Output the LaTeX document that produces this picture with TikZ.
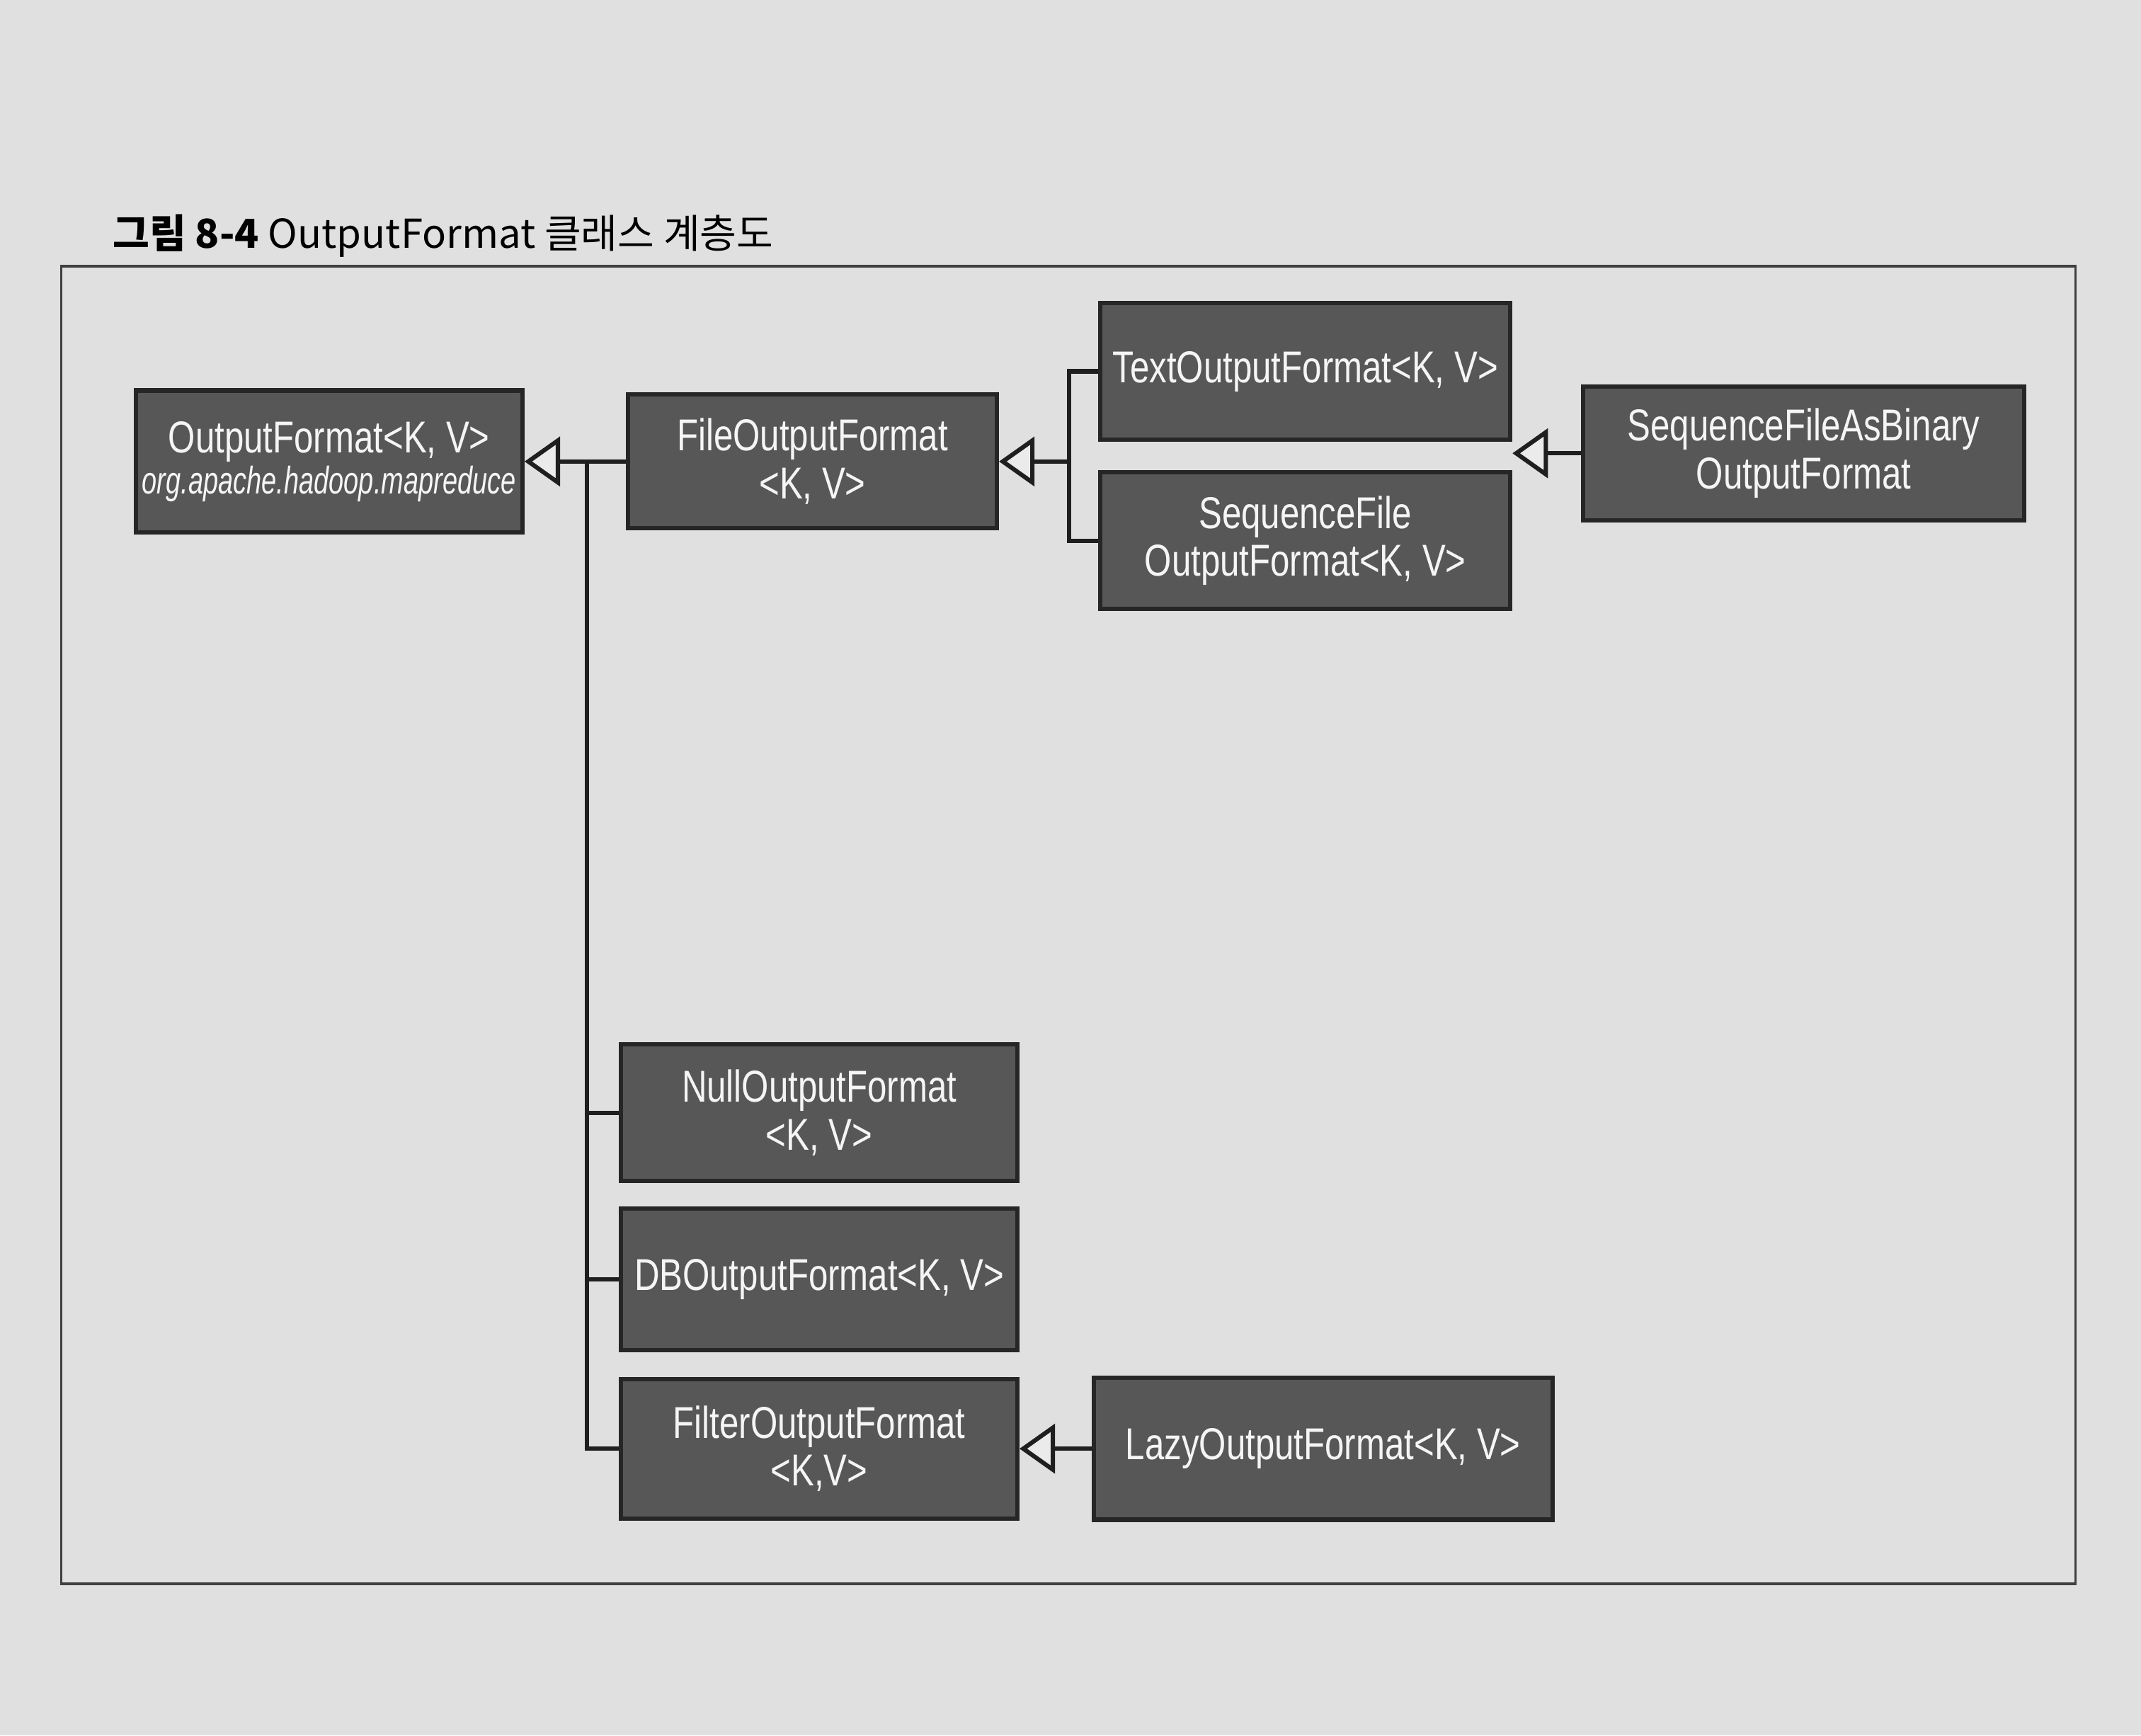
\documentclass[tikz,border=0pt]{standalone}
\usepackage{fontspec}
\setmainfont{Liberation Sans}
\newfontfamily\clsfont{Liberation Sans}[FakeStretch=0.78]
\newfontfamily\pkgfont{Liberation Sans}[FakeStretch=0.70]
\newfontfamily\krfont{Noto Sans CJK KR}
\usetikzlibrary{arrows.meta}

\begin{document}
\begin{tikzpicture}[
    x=0.01cm, y=-0.01cm,
    cls/.style={draw=black!85, fill=black!66, line width=0.9pt, text=white!96!black,
        align=center, inner sep=0pt, font=\clsfont\fontsize{9.3}{10}\selectfont},
    edge/.style={line width=0.9pt, draw=black!88},
    inh/.style={edge, -{Triangle[open, length=2.6mm, width=3.6mm, fill=white!92!black]}},
    lab/.style={inner sep=0pt, anchor=base west}
]
\useasboundingbox (0,0) rectangle (1568,1271);
\fill[black!12] (0,0) rectangle (1568,1271);
\draw[black!75, line width=0.5pt] (45,195) rectangle (1520,1160);

\node[lab] (title) at (82,182) {\krfont\fontsize{8.3}{10}\selectfont\textbf{그림 8-4} OutputFormat 클래스 계층도};

\node[cls, minimum width=2.83cm, minimum height=1.04cm] (out) at (241,338)
    {OutputFormat<K, V>\\[-1.5pt]{\pkgfont\itshape\fontsize{8}{8}\selectfont org.apache.hadoop.mapreduce}};
\node[cls, minimum width=2.70cm, minimum height=0.98cm] (file) at (595,338) {FileOutputFormat\\<K, V>};
\node[cls, minimum width=3.00cm, minimum height=1.00cm] (text) at (956,272) {TextOutputFormat<K, V>};
\node[cls, minimum width=3.00cm, minimum height=1.00cm] (seq)  at (956,396) {SequenceFile\\OutputFormat<K, V>};
\node[cls, minimum width=3.23cm, minimum height=0.98cm] (bin)  at (1321,332) {SequenceFileAsBinary\\OutputFormat};

\node[cls, minimum width=2.90cm, minimum height=1.00cm] (null) at (600,815)  {NullOutputFormat\\<K, V>};
\node[cls, minimum width=2.90cm, minimum height=1.04cm] (db)   at (600,937)  {DBOutputFormat<K, V>};
\node[cls, minimum width=2.90cm, minimum height=1.02cm] (filt) at (600,1061) {FilterOutputFormat\\<K,V>};
\node[cls, minimum width=3.36cm, minimum height=1.04cm] (lazy) at (969,1061) {LazyOutputFormat<K, V>};

\coordinate (trunk) at (430,338);
\coordinate (fork) at (783,338);

\draw[inh] (file.west) -- (out.east);
\draw[edge] (trunk) |- (filt.west);
\draw[edge] (trunk |- null.west) -- (null.west);
\draw[edge] (trunk |- db.west) -- (db.west);

\draw[edge] (text.west) -| (fork) |- (seq.west);
\draw[inh] (fork) -- (file.east);
\draw[inh] (bin.west) -- (bin.west -| seq.east);

\draw[inh] (lazy.west) -- (filt.east);

\end{tikzpicture}
\end{document}
